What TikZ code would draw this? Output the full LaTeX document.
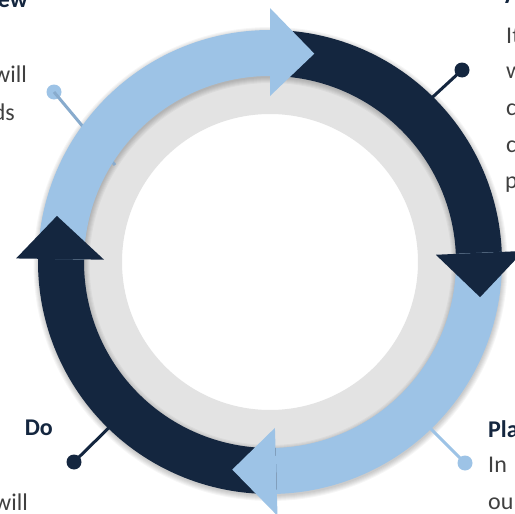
\documentclass[tikz,border=0pt]{standalone}
\usepackage{fontspec}
\setmainfont{Carlito}
\definecolor{navy}{HTML}{14263F}
\definecolor{lblue}{HTML}{9DC3E6}
\definecolor{ringgray}{HTML}{E3E3E3}
\definecolor{bodygray}{HTML}{404040}
\begin{document}
\begin{tikzpicture}[x=1pt,y=-1pt,
  conn/.style={line width=3pt},
  dotnode/.style={circle,inner sep=0pt,minimum size=15pt},
  head/.style={font=\bfseries\fontsize{24}{36.5}\selectfont,text=navy,inner sep=0pt},
  body/.style={font=\fontsize{24}{36.5}\selectfont,text=bodygray,inner sep=0pt}]
\useasboundingbox (0,0) rectangle (515,514);
\fill[white] (0,0) rectangle (515,514);
% gray ring
\begin{scope}[shift={(270,262)}]
\fill[ringgray, even odd rule] (0,0) circle[radius=190] (0,0) circle[radius=148];
\foreach \k in {0,...,5}
  \fill[black, opacity=0.035, even odd rule] (0.5,2) circle[radius=232+\k] (0.5,2) circle[radius=186-\k];
\end{scope}
% connectors
\node[dotnode, fill=navy] (dtr) at (462,70) {};
\node[dotnode, fill=lblue] (dtl) at (54,92) {};
\node[dotnode, fill=navy] (dbl) at (74,462) {};
\node[dotnode, fill=lblue] (dbr) at (465,463) {};
\coordinate (etr) at (410,118);
\coordinate (etl) at (115,165);
\coordinate (ebl) at (130,407);
\coordinate (ebr) at (410,408);
\draw[conn, navy] (dtr.center) -- (etr);
\draw[conn, lblue!85!navy] (dtl.center) -- (etl);
\draw[conn, navy] (dbl.center) -- (ebl);
\draw[conn, lblue] (dbr.center) -- (ebr);
% bands and heads
\begin{scope}[shift={(270,262)}]
\fill[navy] (-90:232) arc[start angle=-90, end angle=-2.5, radius=232] -- (-2.5:186) arc[start angle=-2.5, end angle=-90, radius=186] -- cycle;
\fill[lblue] (-2.5:232) arc[start angle=-2.5, end angle=88.3, radius=232] -- (88.3:186) arc[start angle=88.3, end angle=-2.5, radius=186] -- cycle;
\fill[navy] (88.3:232) arc[start angle=88.3, end angle=180.8, radius=232] -- (180.8:186) arc[start angle=180.8, end angle=88.3, radius=186] -- cycle;
\fill[lblue] (180.8:232) arc[start angle=180.8, end angle=270, radius=232] -- (270:186) arc[start angle=270, end angle=180.8, radius=186] -- cycle;
\fill[lblue] (-90:166) -- (-78:213) -- (-90:254) -- cycle;
\fill[navy] (-2.5:166) -- (9.5:213) -- (-2.5:254) -- cycle;
\fill[lblue] (88.3:166) -- (100.3:211) -- (88.3:254) -- cycle;
\fill[navy] (180.8:166) -- (192.2:218) -- (180.8:254) -- cycle;
\end{scope}
% texts
\node[head, anchor=base east] (hrev) at (28,8) {Review};
\node[body, anchor=base east] (trev1) at (27,82) {will};
\node[body, anchor=base east] (trev2) at (15,120) {ds};
\node[head, anchor=base west] (hact) at (505,3) {Act};
\node[body, anchor=base west] (tact1) at (506,43) {It};
\node[body, anchor=base west] (tact2) at (506,78) {w};
\node[body, anchor=base west] (tact3) at (506,115) {c};
\node[body, anchor=base west] (tact4) at (506,152) {c};
\node[body, anchor=base west] (tact5) at (505,188) {p};
\node[head, anchor=base west] (hplan) at (488,437) {Plan};
\node[body, anchor=base west] (tplan1) at (488,472) {In};
\node[body, anchor=base west] (tplan2) at (488,509) {ou};
\node[head, anchor=base east] (hdo) at (53,435) {Do};
\node[body, anchor=base east] (tdo1) at (28,510) {will};
\end{tikzpicture}
\end{document}
